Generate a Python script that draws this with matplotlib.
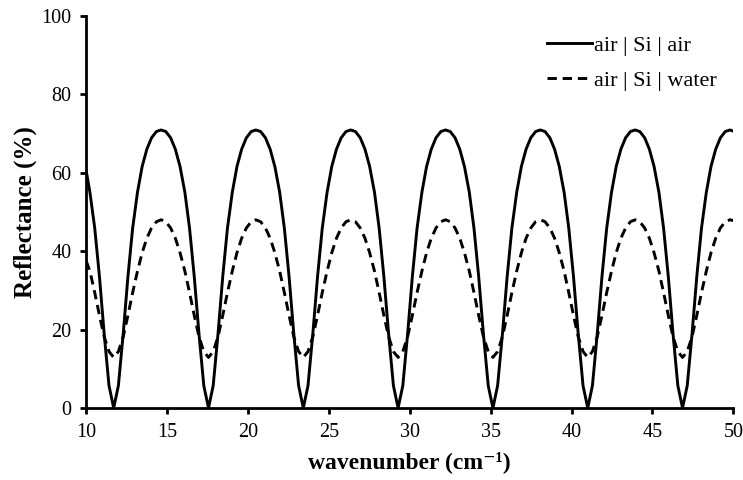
import matplotlib
matplotlib.use("Agg")
import matplotlib.pyplot as plt

# wavenumber samples (cm^-1)
wavenumber = [
    10.00, 10.23, 10.53, 10.82, 11.11, 11.41,
    11.70, 11.99, 12.29, 12.58, 12.87, 13.17, 13.46, 13.75, 14.04, 14.34,
    14.63, 14.92, 15.22, 15.51, 15.80, 16.10, 16.39, 16.68, 16.97, 17.27,
    17.56, 17.85, 18.15, 18.44, 18.73, 19.03, 19.32, 19.61, 19.90, 20.20,
    20.49, 20.78, 21.08, 21.37, 21.66, 21.96, 22.25, 22.54, 22.83, 23.13,
    23.42, 23.71, 24.01, 24.30, 24.59, 24.89, 25.18, 25.47, 25.76, 26.06,
    26.35, 26.64, 26.94, 27.23, 27.52, 27.82, 28.11, 28.40, 28.69, 28.99,
    29.28, 29.57, 29.87, 30.16, 30.45, 30.75, 31.04, 31.33, 31.62, 31.92,
    32.21, 32.50, 32.80, 33.09, 33.38, 33.68, 33.97, 34.26, 34.55, 34.85,
    35.14, 35.43, 35.73, 36.02, 36.31, 36.61, 36.90, 37.19, 37.48, 37.78,
    38.07, 38.36, 38.66, 38.95, 39.24, 39.54, 39.83, 40.12, 40.41, 40.71,
    41.00, 41.29, 41.59, 41.88, 42.17, 42.47, 42.76, 43.05, 43.34, 43.64,
    43.93, 44.22, 44.52, 44.81, 45.10, 45.40, 45.69, 45.98, 46.27, 46.57,
    46.86, 47.15, 47.45, 47.74, 48.03, 48.33, 48.62, 48.91, 49.20, 49.50,
    49.79, 50.00,
]

# reflectance (%) air | Si | air
r_air = [
    60.5, 55.0, 45.8, 33.5, 19.0, 5.7,
    0.0, 5.7, 19.0, 33.5, 45.8, 55.0, 61.6, 66.0, 68.9, 70.5,
    70.9, 70.5, 68.9, 66.0, 61.6, 55.0, 45.8, 33.5, 19.0, 5.7,
    0.0, 5.7, 19.0, 33.5, 45.8, 55.0, 61.6, 66.0, 68.9, 70.5,
    70.9, 70.5, 68.9, 66.0, 61.6, 55.0, 45.8, 33.5, 19.0, 5.7,
    0.0, 5.7, 19.0, 33.5, 45.8, 55.0, 61.6, 66.0, 68.9, 70.5,
    70.9, 70.5, 68.9, 66.0, 61.6, 55.0, 45.8, 33.5, 19.0, 5.7,
    0.0, 5.7, 19.0, 33.5, 45.8, 55.0, 61.6, 66.0, 68.9, 70.5,
    70.9, 70.5, 68.9, 66.0, 61.6, 55.0, 45.8, 33.5, 19.0, 5.7,
    0.0, 5.7, 19.0, 33.5, 45.8, 55.0, 61.6, 66.0, 68.9, 70.5,
    70.9, 70.5, 68.9, 66.0, 61.6, 55.0, 45.8, 33.5, 19.0, 5.7,
    0.0, 5.7, 19.0, 33.5, 45.8, 55.0, 61.6, 66.0, 68.9, 70.5,
    70.9, 70.5, 68.9, 66.0, 61.6, 55.0, 45.8, 33.5, 19.0, 5.7,
    0.0, 5.7, 19.0, 33.5, 45.8, 55.0, 61.6, 66.0, 68.9, 70.5,
    70.9, 70.6,
]

# reflectance (%) air | Si | water
r_water = [
    37.5, 34.9, 29.4, 23.6, 18.2, 14.4,
    12.9, 14.4, 18.2, 23.6, 29.4, 34.9, 39.6, 43.3, 45.9, 47.5,
    48.0, 47.5, 45.9, 43.3, 39.6, 34.9, 29.4, 23.6, 18.2, 14.4,
    12.9, 14.4, 18.2, 23.6, 29.4, 34.9, 39.6, 43.3, 45.9, 47.5,
    48.0, 47.5, 45.9, 43.3, 39.6, 34.9, 29.4, 23.6, 18.2, 14.4,
    12.9, 14.4, 18.2, 23.6, 29.4, 34.9, 39.6, 43.3, 45.9, 47.5,
    48.0, 47.5, 45.9, 43.3, 39.6, 34.9, 29.4, 23.6, 18.2, 14.4,
    12.9, 14.4, 18.2, 23.6, 29.4, 34.9, 39.6, 43.3, 45.9, 47.5,
    48.0, 47.5, 45.9, 43.3, 39.6, 34.9, 29.4, 23.6, 18.2, 14.4,
    12.9, 14.4, 18.2, 23.6, 29.4, 34.9, 39.6, 43.3, 45.9, 47.5,
    48.0, 47.5, 45.9, 43.3, 39.6, 34.9, 29.4, 23.6, 18.2, 14.4,
    12.9, 14.4, 18.2, 23.6, 29.4, 34.9, 39.6, 43.3, 45.9, 47.5,
    48.0, 47.5, 45.9, 43.3, 39.6, 34.9, 29.4, 23.6, 18.2, 14.4,
    12.9, 14.4, 18.2, 23.6, 29.4, 34.9, 39.6, 43.3, 45.9, 47.5,
    48.0, 47.8,
]

x_ticks = [10, 15, 20, 25, 30, 35, 40, 45, 50]
y_ticks = [0, 20, 40, 60, 80, 100]

plt.rcParams['font.family'] = ['Liberation Serif', 'DejaVu Serif']

fig = plt.figure(figsize=(7.43, 4.8), dpi=100)
ax = fig.add_axes([0.116, 0.15, 0.871, 0.817])

ax.plot(wavenumber, r_air, color='black', lw=2.1, label='air | Si | air')
ax.plot(wavenumber, r_water, color='black', lw=2.1, ls=(0, (3.2, 2)),
        label='air | Si | water')

ax.set_xlim(10, 50)
ax.set_ylim(0, 100)
ax.set_xticks(x_ticks)
ax.set_yticks(y_ticks)

for side in ['top', 'right']:
    ax.spines[side].set_visible(False)
for side in ['left', 'bottom']:
    ax.spines[side].set_linewidth(2.0)
ax.tick_params(direction='out', length=4.5, width=2.0, labelsize=14.5)
ax.tick_params(axis='x', pad=6)
ax.tick_params(axis='y', pad=6)

ax.set_xlabel('wavenumber (cm\u207b\u00b9)', fontsize=17, fontweight='bold', labelpad=7)
ax.set_ylabel('Reflectance (%)', fontsize=18, fontweight='bold', labelpad=3)

ax.legend(loc='upper right', bbox_to_anchor=(0.988, 0.972), frameon=False,
          fontsize=16, handlelength=2.0, handletextpad=0.1,
          borderaxespad=0.0, labelspacing=0.65)

fig.savefig('out.png', dpi=100)
